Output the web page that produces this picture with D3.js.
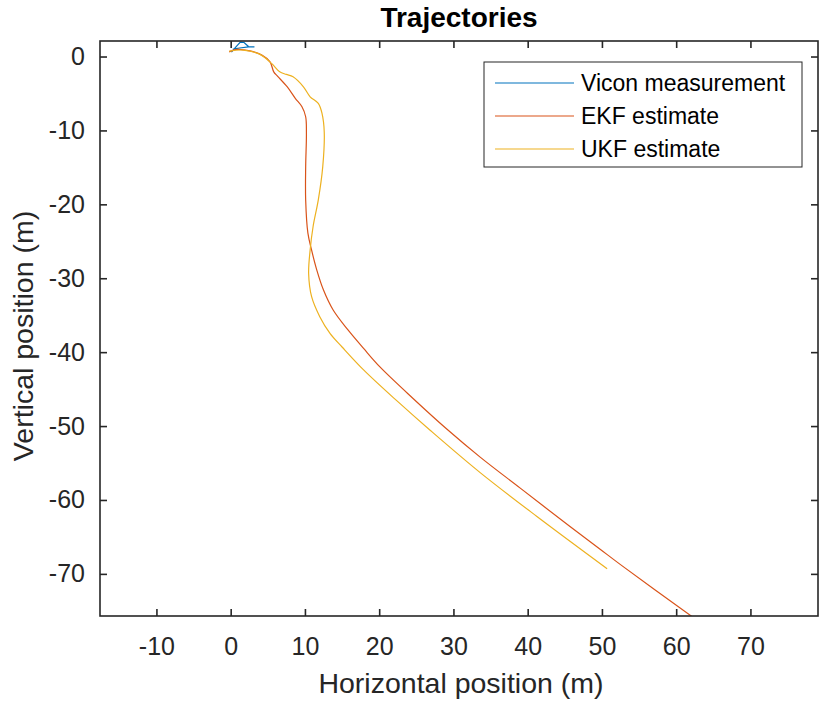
<!DOCTYPE html>
<html>
<head>
<meta charset="utf-8">
<script src="https://cdn.jsdelivr.net/npm/d3@7"></script>
<style>
  body { margin: 0; background: #fff; }
  svg text { font-family: "Liberation Sans", Arial, sans-serif; fill: #262626; }
</style>
</head>
<body>
<div class="chart"></div>
<script>
// axis limits and ticks
var xLimits = [-17.6, 79.1];
var yLimits = [-75.7, 2.1];
var xTicks = [-10, 0, 10, 20, 30, 40, 50, 60, 70];
var yTicks = [0, -10, -20, -30, -40, -50, -60, -70];

var seriesNames = ["Vicon measurement", "EKF estimate", "UKF estimate"];
var seriesColors = ["#0072BD", "#D95319", "#EDB120"];

// Vicon measurement (small loop near origin)
var viconX = [0.1, 0.8, 1.3, 1.8, 2.4, 3.2, 2.4, 1.2, 0.3];
var viconY = [0.6, 1.4, 1.95, 1.9, 1.35, 1.3, 1.3, 1.15, 1.0];

// EKF estimate
var ekfX = [-0.2, 0.8, 2.6, 4.2, 5.3, 5.8, 6.3, 7.6, 8.7, 9.6, 10.1, 10.2, 10.1, 10.1, 10.4, 10.9, 11.6, 12.5, 13.8, 15.8, 17.9, 20.1, 24.6, 29.1, 33.6, 39.0, 45.7, 49.8, 52.5, 62.3];
var ekfY = [0.63, 0.96, 0.77, 0.19, -0.72, -2.07, -2.65, -4.09, -5.66, -6.8, -8.15, -10.4, -14.9, -19.4, -23.9, -26.2, -28.9, -31.6, -34.3, -37.0, -39.5, -42.0, -46.3, -50.4, -54.2, -58.4, -63.6, -66.7, -68.75, -75.9];

// UKF estimate
var ukfX = [-0.2, 1.7, 3.9, 5.5, 6.6, 7.5, 8.4, 9.8, 10.7, 11.8, 12.3, 12.6, 12.4, 11.8, 11.1, 10.7, 10.5, 10.9, 12.0, 13.4, 15.0, 17.9, 22.4, 26.9, 33.6, 41.2, 50.7];
var ukfY = [0.73, 0.87, 0.32, -0.93, -2.07, -2.42, -2.75, -4.1, -5.45, -6.35, -7.7, -10.2, -14.9, -19.4, -23.0, -26.2, -29.4, -32.5, -35.2, -37.5, -39.3, -42.4, -46.6, -50.6, -56.3, -62.2, -69.3];

var W = 828, H = 705;
var margin = {top: 41, right: 10, bottom: 89, left: 100},
    width = W - margin.left - margin.right,
    height = H - margin.top - margin.bottom;
var axisColor = "#262626";

var svg = d3.select(".chart")
    .append("svg")
    .attr("width", W)
    .attr("height", H);

var g = svg.append("g")
    .attr("transform", "translate(" + margin.left + "," + margin.top + ")");

var x = d3.scaleLinear().domain(xLimits).range([0, width]);
var y = d3.scaleLinear().domain(yLimits).range([height, 0]);

g.append("clipPath").attr("id", "plotClip")
    .append("rect").attr("width", width).attr("height", height);

// data lines
var series = [
    {name: seriesNames[0], color: seriesColors[0], pts: d3.zip(viconX, viconY), curve: d3.curveLinear},
    {name: seriesNames[1], color: seriesColors[1], pts: d3.zip(ekfX, ekfY), curve: d3.curveCatmullRom.alpha(0.5)},
    {name: seriesNames[2], color: seriesColors[2], pts: d3.zip(ukfX, ukfY), curve: d3.curveCatmullRom.alpha(0.5)}
];

var lines = g.append("g").attr("clip-path", "url(#plotClip)");
series.forEach(function(s) {
    var line = d3.line()
        .x(function(d) { return x(d[0]); })
        .y(function(d) { return y(d[1]); })
        .curve(s.curve);
    lines.append("path")
        .datum(s.pts)
        .attr("fill", "none")
        .attr("stroke", s.color)
        .attr("stroke-width", 1.2)
        .attr("d", line);
});

// plain hyphen for negatives, like the original
var fmt = function(d) { return String(d); };

// axes: ticks inside on all four sides
function styleAxis(sel) {
    sel.select(".domain").remove();
    sel.selectAll("line").attr("stroke", axisColor).attr("stroke-width", 1.6);
    sel.selectAll("text").style("font-size", "25px").attr("fill", axisColor);
}

g.append("g")
    .attr("transform", "translate(0," + height + ")")
    .call(d3.axisBottom(x).tickValues(xTicks).tickSize(-7).tickPadding(21).tickFormat(fmt))
    .call(styleAxis);

g.append("g")
    .call(d3.axisTop(x).tickValues(xTicks).tickSize(-7).tickFormat(""))
    .call(styleAxis);

g.append("g")
    .call(d3.axisLeft(y).tickValues(yTicks).tickSize(-7).tickPadding(15).tickFormat(fmt))
    .call(styleAxis);

g.append("g")
    .attr("transform", "translate(" + width + ",0)")
    .call(d3.axisRight(y).tickValues(yTicks).tickSize(-7).tickFormat(""))
    .call(styleAxis);

// frame
g.append("rect")
    .attr("width", width)
    .attr("height", height)
    .attr("fill", "none")
    .attr("stroke", axisColor)
    .attr("stroke-width", 1.6);

// title and axis labels
svg.append("text")
    .attr("x", margin.left + width / 2)
    .attr("y", 27)
    .attr("text-anchor", "middle")
    .style("font-size", "28px")
    .style("font-weight", "bold")
    .style("fill", "#000")
    .text("Trajectories");

svg.append("text")
    .attr("x", margin.left + width / 2 + 2)
    .attr("y", 693)
    .attr("text-anchor", "middle")
    .style("font-size", "28.5px")
    .text("Horizontal position (m)");

svg.append("text")
    .attr("transform", "translate(33," + 336 + ")rotate(-90)")
    .attr("text-anchor", "middle")
    .style("font-size", "28.5px")
    .text("Vertical position (m)");

// legend
var legend = svg.append("g").attr("transform", "translate(484,62)");
legend.append("rect")
    .attr("width", 318)
    .attr("height", 105)
    .attr("fill", "#fff")
    .attr("stroke", axisColor)
    .attr("stroke-width", 1);

var rows = legend.selectAll(".row")
    .data(series)
    .enter()
    .append("g")
    .attr("transform", function(d, i) { return "translate(0," + (29 + i * 33) + ")"; });
rows.append("line")
    .attr("x1", 11).attr("x2", 90)
    .attr("y1", -8).attr("y2", -8)
    .attr("stroke", function(d) { return d.color; })
    .attr("stroke-width", 1.2);
rows.append("text")
    .attr("x", 97)
    .style("font-size", "23px")
    .style("fill", "#000")
    .text(function(d) { return d.name; });
</script>
</body>
</html>
